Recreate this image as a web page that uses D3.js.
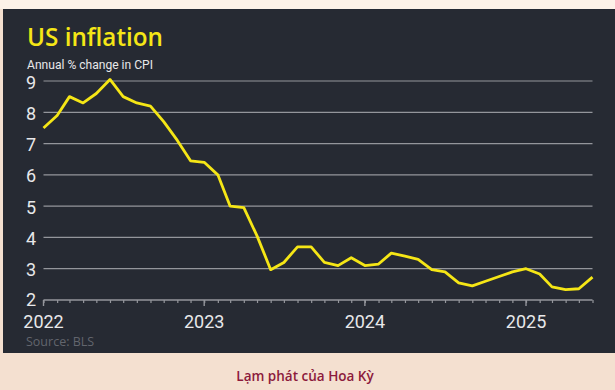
<!DOCTYPE html>
<html>
<head>
<meta charset="utf-8">
<script src="https://cdn.jsdelivr.net/npm/d3@7"></script>
<style>
  html, body { margin: 0; padding: 0; background: #f4e0d0; }
  svg { display: block; }
</style>
</head>
<body>
<div id="chart"></div>
<script>
// CPI, % thay đổi so với cùng kỳ, từ 01/2022 đến 06/2025
const startMonth = "2022-01";
const cpiValues = [
  7.5, 7.9, 8.5, 8.3, 8.6, 9.05, 8.5, 8.3, 8.2, 7.7, 7.1, 6.45,
  6.4, 6.0, 5.0, 4.95, 4.05, 2.97, 3.2, 3.7, 3.7, 3.2, 3.1, 3.35,
  3.1, 3.15, 3.5, 3.4, 3.3, 2.97, 2.9, 2.55, 2.45, 2.6, 2.75, 2.9,
  3.0, 2.83, 2.42, 2.33, 2.36, 2.73
];
const yTicks = [2, 3, 4, 5, 6, 7, 8, 9];
const yearTicks = ["2022", "2023", "2024", "2025"];

const width = 615, height = 390;
const parse = d3.timeParse("%Y-%m");
const t0 = parse(startMonth);
const data = cpiValues.map((v, i) => ({ date: d3.timeMonth.offset(t0, i), value: v }));

const svg = d3.select("#chart").append("svg")
  .attr("width", width)
  .attr("height", height);

// nền
svg.append("rect").attr("width", width).attr("height", height).attr("fill", "#f4e0d0");
svg.append("rect").attr("width", width).attr("height", 9).attr("fill", "#fdf2e8");
svg.append("rect").attr("x", 3).attr("y", 9).attr("width", 612).attr("height", 344).attr("fill", "#262a33");

const x = d3.scaleTime()
  .domain([t0, data[data.length - 1].date])
  .range([43.5, 592.5]);

const y = d3.scaleLinear()
  .domain([2, 9])
  .range([300, 81]);

// tiêu đề
svg.append("text")
  .attr("x", 27).attr("y", 46)
  .attr("fill", "#f5e616")
  .style("font-family", "'Open Sans', sans-serif")
  .style("font-weight", 600)
  .style("font-size", "25px")
  .attr("textLength", 136)
  .attr("lengthAdjust", "spacingAndGlyphs")
  .text("US inflation");

svg.append("text")
  .attr("x", 27).attr("y", 68.5)
  .attr("fill", "#e8e8ea")
  .style("font-family", "Roboto, sans-serif")
  .style("font-size", "12px")
  .attr("textLength", 126)
  .attr("lengthAdjust", "spacingAndGlyphs")
  .text("Annual % change in CPI");

// lưới ngang
svg.append("g")
  .selectAll("line")
  .data(yTicks.filter(d => d !== 2))
  .enter()
  .append("line")
  .attr("x1", 43.5).attr("x2", 592.5)
  .attr("y1", d => y(d)).attr("y2", d => y(d))
  .attr("stroke", "#94969c")
  .attr("stroke-width", 1.2);

svg.append("g")
  .selectAll("text")
  .data(yTicks)
  .enter()
  .append("text")
  .attr("x", 26)
  .attr("y", d => d === 2 ? y(d) + 6 : y(d) + 7.5)
  .attr("fill", "#e8e8ea")
  .style("font-family", "Roboto, sans-serif")
  .style("font-size", "18px")
  .text(d => d);

// trục x
const xAxisMinor = d3.axisBottom(x)
  .ticks(d3.timeMonth.every(1))
  .tickSize(3)
  .tickFormat("");

const gMinor = svg.append("g")
  .attr("transform", "translate(0,300)")
  .call(xAxisMinor);
gMinor.select(".domain").attr("stroke", "#94969c").attr("stroke-width", 1.5)
  .attr("d", `M43.5,0H592.5`);
gMinor.selectAll(".tick line").attr("stroke", "#94969c").attr("stroke-width", 1.2);

const yearDates = yearTicks.map(d => d3.timeParse("%Y")(d));
const gMajor = svg.append("g").attr("transform", "translate(0,300)");
gMajor.selectAll("line")
  .data(yearDates)
  .enter()
  .append("line")
  .attr("x1", d => x(d)).attr("x2", d => x(d))
  .attr("y1", 0).attr("y2", 6)
  .attr("stroke", "#94969c")
  .attr("stroke-width", 1.4);
gMajor.selectAll("text")
  .data(yearDates)
  .enter()
  .append("text")
  .attr("x", d => x(d))
  .attr("y", 27.5)
  .attr("text-anchor", "middle")
  .attr("fill", "#e8e8ea")
  .style("font-family", "Roboto, sans-serif")
  .style("font-size", "18px")
  .text(d => d3.timeFormat("%Y")(d));

// đường lạm phát
const line = d3.line()
  .x(d => x(d.date))
  .y(d => y(d.value));

svg.append("path")
  .datum(data)
  .attr("d", line)
  .attr("fill", "none")
  .attr("stroke", "#f5e616")
  .attr("stroke-width", 2.8)
  .attr("stroke-linejoin", "round");

svg.append("text")
  .attr("x", 26).attr("y", 345.5)
  .attr("fill", "#62656d")
  .style("font-family", "'Open Sans', sans-serif")
  .style("font-size", "12.5px")
  .text("Source: BLS");

// chú thích
svg.append("text")
  .attr("x", 305).attr("y", 381)
  .attr("text-anchor", "middle")
  .attr("fill", "#8c1a3c")
  .style("font-family", "'Open Sans', sans-serif")
  .style("font-weight", 600)
  .style("font-size", "13.5px")
  .text("Lạm phát của Hoa Kỳ");
</script>
</body>
</html>
